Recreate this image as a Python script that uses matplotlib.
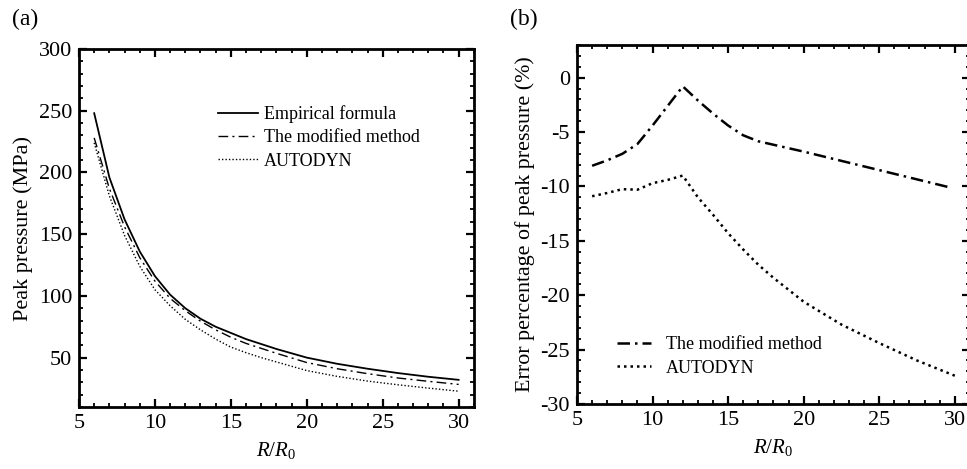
import numpy as np
import matplotlib
matplotlib.use("Agg")
import matplotlib.pyplot as plt
from matplotlib.ticker import MultipleLocator

plt.rcParams['font.family'] = ['Liberation Serif', 'DejaVu Serif']
plt.rcParams['mathtext.fontset'] = 'custom'
plt.rcParams['mathtext.rm'] = 'Liberation Serif'
plt.rcParams['mathtext.it'] = 'Liberation Serif:italic'

# (a) peak pressure vs R/R0
r_a = [6, 7, 8, 9, 10, 11, 12, 13, 14, 15, 16, 17, 18, 20, 22, 24, 26, 28, 30]
p_emp = [248, 196, 162, 136, 116, 101, 90, 81.5, 75, 70, 65, 61, 57, 50, 45, 41, 37.5, 34.5, 32]
p_mod = [228, 187, 156, 131, 112, 98, 88, 79.5, 72.5, 66.5, 61.5, 57.5, 53.5, 46, 41, 37, 33.5, 30.8, 28.3]
p_auto = [224, 181, 149, 124, 105, 92, 81, 72.5, 65, 58.5, 54, 50, 46.5, 39.5, 34.8, 31, 28, 25.3, 22.8]

# (b) error percentage
r_b_mod = [6, 7, 8, 9, 10, 11, 12, 13, 14, 15, 16, 17, 20, 25, 29.7]
e_mod = [-8.1, -7.6, -7.0, -6.1, -4.4, -2.6, -0.8, -2.1, -3.3, -4.4, -5.3, -5.85, -6.8, -8.5, -10.1]
r_b_auto = [6, 7, 8, 9, 10, 11, 12, 13, 14, 15, 16, 17, 18, 20, 22.5, 25, 27.5, 30]
e_auto = [-10.9, -10.6, -10.25, -10.3, -9.7, -9.4, -9.0, -11.0, -12.6, -14.3, -15.8, -17.2, -18.4, -20.6, -22.7, -24.4, -26.0, -27.4]

fig = plt.figure(figsize=(9.67, 4.69), dpi=100)
ax1 = fig.add_axes([0.0817, 0.1322, 0.4083, 0.7633])
ax2 = fig.add_axes([0.5967, 0.1386, 0.4063, 0.7654])


def style(ax):
    for s in ax.spines.values():
        s.set_linewidth(2.0)
    ax.tick_params(which='both', direction='in', top=True, right=True, labelsize=16)
    ax.tick_params(which='major', length=6, width=1.6, pad=5)
    ax.tick_params(which='minor', length=3, width=1.3)


ax1.plot(r_a, p_emp, color='black', lw=1.3, label='Empirical formula')
ax1.plot(r_a, p_mod, color='black', lw=1.0, linestyle=(0, (7, 3, 1.5, 3)), label='The modified method')
ax1.plot(r_a, p_auto, color='black', lw=1.0, linestyle=(0, (1, 1.5)), label='AUTODYN')
ax1.set_xlim(5, 31)
ax1.set_ylim(10, 300)
ax1.xaxis.set_major_locator(MultipleLocator(5))
ax1.xaxis.set_minor_locator(MultipleLocator(1))
ax1.yaxis.set_major_locator(MultipleLocator(50))
ax1.yaxis.set_minor_locator(MultipleLocator(10))
ax1.set_yticks([50, 100, 150, 200, 250, 300])
style(ax1)
ax1.set_xlabel('$R/R_0$', fontsize=15, labelpad=5)
ax1.set_ylabel('Peak pressure (MPa)', fontsize=16, labelpad=4)
ax1.legend(loc='upper left', bbox_to_anchor=(0.334, 0.863), frameon=False, fontsize=13,
           handlelength=2.2, handletextpad=0.33, labelspacing=0.35, borderaxespad=0)
fig.text(0.012, 0.958, '(a)', fontsize=17, va='center', ha='left')

ax2.plot(r_b_mod, e_mod, color='black', lw=1.8, linestyle=(0, (5, 2, 1, 2)), label='The modified method')
ax2.plot(r_b_auto, e_auto, color='black', lw=1.8, linestyle=(0, (1, 1.6)), label='AUTODYN')
ax2.set_xlim(5, 31)
ax2.set_ylim(-30, 3)
ax2.xaxis.set_major_locator(MultipleLocator(5))
ax2.xaxis.set_minor_locator(MultipleLocator(1))
ax2.yaxis.set_major_locator(MultipleLocator(5))
ax2.yaxis.set_minor_locator(MultipleLocator(1))
ax2.set_yticks([-30, -25, -20, -15, -10, -5, 0])
ax2.set_yticklabels(['-30', '-25', '-20', '-15', '-10', '-5', '0'])
style(ax2)
ax2.set_xlabel('$R/R_0$', fontsize=15, labelpad=5)
ax2.set_ylabel('Error percentage of peak pressure (%)', fontsize=15.8, labelpad=4)
ax2.legend(loc='lower left', bbox_to_anchor=(0.084, 0.056), frameon=False, fontsize=13,
           handlelength=1.85, handletextpad=0.85, labelspacing=0.35, borderaxespad=0)
fig.text(0.527, 0.958, '(b)', fontsize=17, va='center', ha='left')

fig.savefig('out.png', dpi=100)
